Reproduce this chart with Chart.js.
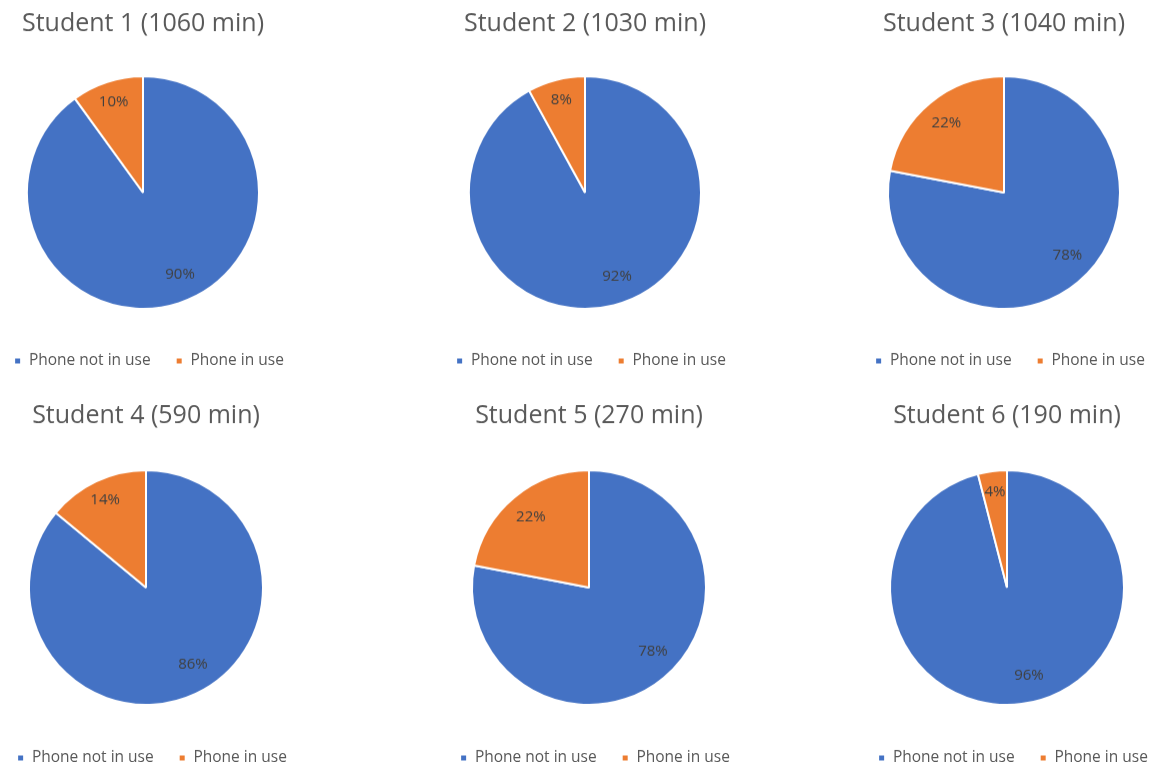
<!DOCTYPE html>
<html>
<head>
<meta charset="utf-8">
<script src="https://cdn.jsdelivr.net/npm/chart.js@4.4.1/dist/chart.umd.min.js"></script>
<style>
    html, body { margin: 0; padding: 0; background: #fff; overflow: hidden; width: 1153px; height: 767px; }
    .cell { position: absolute; width: 340px; }
</style>
</head>
<body>
<script>
// data
const categories = ["Phone not in use", "Phone in use"];
const students = ["Student 1", "Student 2", "Student 3", "Student 4", "Student 5", "Student 6"];
const totalMinutes = [1060, 1030, 1040, 590, 270, 190];
const notInUse = [90, 92, 78, 86, 78, 96];
const inUse = [10, 8, 22, 14, 22, 4];

const colors = ["#4472C4", "#ED7D31"];
const font_color = "#595959";
const fontFamily = "'Open Sans', sans-serif";

// where each chart sits on the page (pie centre x, top of the cell)
const cells = [
    { cx: 143, top: 0, titleY: 24, pieY: 192, legendY: 360, r: 116 },
    { cx: 585, top: 0, titleY: 24, pieY: 192, legendY: 360, r: 116 },
    { cx: 1004, top: 0, titleY: 24, pieY: 192, legendY: 360, r: 116 },
    { cx: 146, top: 392, titleY: 24, pieY: 195, legendY: 365, r: 117 },
    { cx: 589, top: 392, titleY: 24, pieY: 195, legendY: 365, r: 117 },
    { cx: 1007, top: 392, titleY: 24, pieY: 195, legendY: 365, r: 117 },
];

const titleSize = 25;
const legendSize = 15.5;
const legendPad = 25;
const legendShift = 6;

Chart.defaults.font.family = fontFamily;

// percent text inside each slice
const percentLabels = {
    id: "percentLabels",
    afterDatasetsDraw(chart) {
        const ctx = chart.ctx;
        const meta = chart.getDatasetMeta(0);
        const data = chart.data.datasets[0].data;
        ctx.save();
        ctx.font = "15px " + fontFamily;
        ctx.fillStyle = "#404040";
        ctx.textAlign = "center";
        ctx.textBaseline = "middle";
        meta.data.forEach((arc, i) => {
            const p = arc.getProps(["x", "y", "startAngle", "endAngle", "outerRadius"], true);
            const big = data[i] > 50;
            const a = p.startAngle + (p.endAngle - p.startAngle) * (big ? 0.48 : 0.5);
            const r = p.outerRadius * (big ? 0.77 : (data[i] <= 15 ? 0.82 : 0.78));
            ctx.fillText(data[i] + "%", p.x + Math.cos(a) * r, p.y + Math.sin(a) * r);
        });
        ctx.restore();
    }
};

// excel sets its legend a little right of the pie centre
const nudgeLegend = {
    id: "nudgeLegend",
    afterLayout(chart) {
        chart.legend.left += legendShift;
        chart.legend.right += legendShift;
    }
};

function legendTopOf(cell) {
    return cell.legendY - legendPad - legendSize / 2;
}

function setOptionForPieGraphic(text, cell) {
    const titleLine = titleSize * 1.2;
    const chartTop = 2 * cell.pieY - legendTopOf(cell);
    const titleTop = cell.titleY - titleLine / 2;
    return {
        responsive: true,
        maintainAspectRatio: false,
        animation: false,
        events: [],
        layout: { padding: 0 },
        plugins: {
            title: {
                display: true,
                text: text,
                color: font_color,
                font: { size: titleSize, weight: "normal" },
                padding: { top: titleTop, bottom: chartTop - titleTop - titleLine }
            },
            legend: {
                display: true,
                position: "bottom",
                labels: {
                    color: font_color,
                    font: { size: legendSize },
                    boxWidth: 7,
                    boxHeight: 7,
                    padding: legendPad
                }
            },
            tooltip: { enabled: false }
        }
    };
}

function setDatasForPieGraphic(data, labels, radius) {
    return {
        labels: labels,
        datasets: [{
            data: data,
            backgroundColor: colors,
            borderColor: "#ffffff",
            borderWidth: 2,
            radius: radius
        }]
    };
}

students.forEach((name, i) => {
    const cell = cells[i];
    // one-row legend: item height + padding + 10
    const height = legendTopOf(cell) + legendSize + legendPad + 10;
    const div = document.createElement("div");
    div.className = "cell";
    div.style.left = (cell.cx - 170) + "px";
    div.style.top = cell.top + "px";
    div.style.height = height + "px";
    const canvas = document.createElement("canvas");
    div.appendChild(canvas);
    document.body.appendChild(div);

    new Chart(canvas, {
        type: "pie",
        data: setDatasForPieGraphic([notInUse[i], inUse[i]], categories, cell.r),
        options: setOptionForPieGraphic(name + " (" + totalMinutes[i] + " min)", cell),
        plugins: [percentLabels, nudgeLegend]
    });
});
</script>
</body>
</html>
